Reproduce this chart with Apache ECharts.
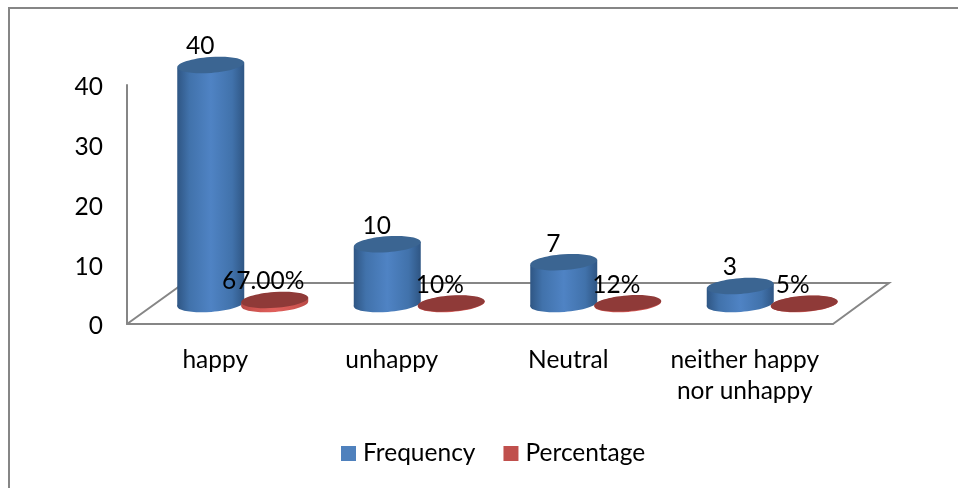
<!DOCTYPE html>
<html><head><meta charset="utf-8">
<style>html,body{margin:0;padding:0;background:#fff}#c{width:958px;height:488px}</style>
<script src="https://cdn.jsdelivr.net/npm/echarts@6/dist/echarts.min.js"></script>
</head><body><div id="c"></div>
<script>
const categories = ['happy', 'unhappy', 'Neutral', 'neither happy\nnor unhappy'];
const frequency = [40, 10, 7, 3];
const percentage = [0.67, 0.10, 0.12, 0.05];
const percentageLabels = ['67.00%', '10%', '12%', '5%'];
const yTicks = {min: 0, max: 40, interval: 10};

const FONT = 'Lato';
const FS = 24.5;
const RX = 33.5, RY = 7.9, TIP = 2.5, TILT = -Math.atan(TIP / RX), DY = -20;

function gradient(edge, near, mid) {
  return {type: 'linear', x: 0, y: 0, x2: 1, y2: 0, colorStops: [
    {offset: 0, color: edge}, {offset: 0.18, color: near}, {offset: 0.5, color: mid},
    {offset: 0.82, color: near}, {offset: 1, color: edge}]};
}
function cylinder(dx, labelDx, labelOf, palette) {
  return function (params, api) {
    const p = api.coord([api.value(0), api.value(1)]);
    const base = api.coord([api.value(0), 0]);
    const cx = p[0] + dx, top = p[1] + DY, bot = base[1] + DY;
    const fill = gradient(palette.edge, palette.near, palette.mid);
    const ell = (cy, style) => ({
      type: 'ellipse', shape: {cx: cx, cy: cy, rx: RX, ry: RY},
      rotation: -TILT, originX: cx, originY: cy, style: style, silent: true
    });
    return {type: 'group', children: [
      ell(bot, {fill: fill}),
      {type: 'polygon', shape: {points: [
        [cx - RX, top + TIP], [cx + RX, top - TIP], [cx + RX, bot - TIP], [cx - RX, bot + TIP]]},
        style: {fill: fill}, silent: true},
      ell(top, {fill: palette.top}),
      {type: 'text', x: cx + labelDx, y: top - 18.5, silent: true, z2: 10, style: {
        text: labelOf(params.dataIndex), fill: '#000', font: FS + 'px ' + FONT,
        align: 'center', verticalAlign: 'middle'}}
    ]};
  };
}
const chart = echarts.init(document.getElementById('c'), null, {renderer: 'canvas'});
chart.setOption({
  animation: false,
  textStyle: {fontFamily: FONT},
  grid: {left: 127, top: 85, width: 706, height: 239},
  legend: {
    left: 336, top: 436, icon: 'rect', itemWidth: 15, itemHeight: 15, itemGap: 28,
    textStyle: {fontSize: FS, color: '#000', fontFamily: FONT, padding: [0, 0, 0, 2]},
    data: ['Frequency', 'Percentage']
  },
  xAxis: {
    type: 'category', data: categories,
    axisTick: {show: false},
    axisLine: {lineStyle: {color: '#868686', width: 2}},
    axisLabel: {color: '#000', fontSize: FS, fontFamily: FONT, margin: 21, lineHeight: 31, interval: 0}
  },
  yAxis: {
    type: 'value', min: yTicks.min, max: yTicks.max, interval: yTicks.interval,
    splitLine: {show: false}, axisTick: {show: false},
    axisLine: {show: true, lineStyle: {color: '#868686', width: 2}},
    axisLabel: {color: '#000', fontSize: FS, fontFamily: FONT, margin: 24, verticalAlign: 'top', padding: [-10, 0, 0, 0]}
  },
  graphic: [
    {type: 'polyline', z: 0, silent: true,
     shape: {points: [[9, 488], [9, 8], [958, 8]]},
     style: {stroke: '#868686', lineWidth: 2, fill: null}},
    {type: 'polyline', z: 0, silent: true,
     shape: {points: [[127, 324], [184, 283], [889, 283], [833, 324]]},
     style: {stroke: '#868686', lineWidth: 2, fill: null}}
  ],
  series: [
    {name: 'Frequency', type: 'custom', itemStyle: {color: '#4f81bd'}, z: 3,
     data: frequency.map((v, i) => [i, v]), encode: {x: 0, y: 1},
     renderItem: cylinder(-4.5, -10.5, i => String(frequency[i]),
       {edge: '#2f5684', near: '#4172ab', mid: '#4f83c4', top: '#3b6592'})},
    {name: 'Percentage', type: 'custom', itemStyle: {color: '#c0504d'}, z: 4,
     data: percentage.map((v, i) => [i, v]), encode: {x: 0, y: 1},
     renderItem: cylinder(59.5, -11.5, i => percentageLabels[i],
       {edge: '#b84a47', near: '#cf5450', mid: '#e0605c', top: '#8f3a38'})}
  ]
});
</script></body></html>
